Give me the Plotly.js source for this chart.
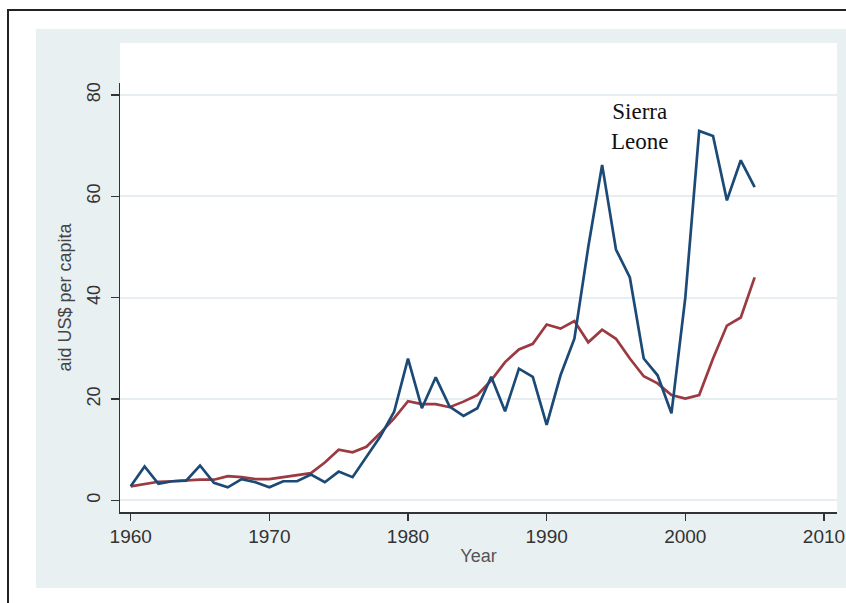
<!DOCTYPE html>
<html>
<head>
<meta charset="utf-8">
<script src="https://cdn.plot.ly/plotly-3.0.1.min.js"></script>
<style>
  html, body { margin: 0; padding: 0; background: #ffffff; }
  #chart { width: 846px; height: 603px; }
</style>
</head>
<body>
<div id="chart"></div>
<script>
// ---- data ----
const years = [1960,1961,1962,1963,1964,1965,1966,1967,1968,1969,
               1970,1971,1972,1973,1974,1975,1976,1977,1978,1979,
               1980,1981,1982,1983,1984,1985,1986,1987,1988,1989,
               1990,1991,1992,1993,1994,1995,1996,1997,1998,1999,
               2000,2001,2002,2003,2004,2005];

const sierraLeone = [2.8,6.7,3.3,3.8,3.9,6.9,3.5,2.6,4.2,3.6,
                     2.6,3.8,3.8,5.1,3.6,5.7,4.6,8.7,12.6,17.5,
                     28.0,18.2,24.3,18.5,16.7,18.2,24.4,17.6,26.0,24.4,
                     14.9,24.7,31.9,50.0,66.2,49.5,44.0,28.0,24.7,17.2,
                     40.0,72.9,71.9,59.2,67.1,61.8];

const comparison = [2.8,3.3,3.7,3.8,4.0,4.1,4.1,4.8,4.6,4.2,
                    4.2,4.6,4.9,5.4,7.5,10.0,9.5,10.6,13.3,16.2,
                    19.6,19.0,19.0,18.4,19.5,20.8,23.7,27.3,29.8,30.9,
                    34.7,33.9,35.4,31.2,33.7,31.9,28.0,24.5,23.1,20.8,
                    20.1,20.8,28.0,34.5,36.1,44.0];

const xTicks = [1960,1970,1980,1990,2000,2010];
const yTicks = [0,20,40,60,80];
const seriesLabel = "Sierra<br>Leone";
const xTitle = "Year";
const yTitle = "aid US$ per capita";

// ---- chart ----
const traces = [
  { x: years, y: comparison, type: 'scatter', mode: 'lines',
    line: { color: '#9b3a40', width: 2.7 }, hoverinfo: 'x+y', showlegend: false },
  { x: years, y: sierraLeone, type: 'scatter', mode: 'lines', name: 'Sierra Leone',
    line: { color: '#1c4a76', width: 2.7 }, hoverinfo: 'x+y', showlegend: false }
];

const tickFont = { family: 'Liberation Sans, Arial, sans-serif', size: 19, color: '#333333' };

const layout = {
  width: 846, height: 603,
  margin: { l: 120, r: 9, t: 83, b: 91 },
  paper_bgcolor: '#ffffff',
  plot_bgcolor: '#ffffff',
  showlegend: false,
  xaxis: {
    range: [1959.228, 2010.94],
    tickvals: xTicks,
    ticktext: xTicks.map(String),
    ticks: 'outside', ticklen: 7, tickwidth: 1.5, tickcolor: '#333333',
    showline: true, linecolor: '#333333', linewidth: 1.5,
    showgrid: false, zeroline: false,
    tickfont: tickFont,
    title: { text: xTitle, font: { family: 'Liberation Sans, Arial, sans-serif', size: 18, color: '#555555' }, standoff: 3 }
  },
  yaxis: {
    range: [-2.27, 82.35],
    tickvals: yTicks,
    ticktext: yTicks.map(String),
    tickangle: -90,
    ticks: 'outside', ticklen: 8, tickwidth: 1.5, tickcolor: '#333333',
    ticklabelstandoff: 3,
    showline: true, linecolor: '#333333', linewidth: 1.5,
    showgrid: true, gridcolor: '#e6eef1', gridwidth: 2,
    zeroline: false,
    tickfont: { family: 'Liberation Sans, Arial, sans-serif', size: 18, color: '#333333' },
    title: { text: yTitle, font: { family: 'Liberation Sans, Arial, sans-serif', size: 18, color: '#444444' }, standoff: 8 }
  },
  shapes: [
    // light grey-blue graph region
    { type: 'rect', xref: 'paper', yref: 'paper', layer: 'below',
      x0: -0.1172, x1: 1.06, y0: -0.1772, y1: 1.1259,
      fillcolor: '#e9f0f2', line: { width: 0 } },
    // white plot region (extends above the axis range)
    { type: 'rect', xref: 'paper', yref: 'paper', layer: 'below',
      x0: 0, x1: 1, y0: 0, y1: 1.0932,
      fillcolor: '#ffffff', line: { width: 0 } },
    // outer frame (cropped at right and bottom)
    { type: 'rect', xref: 'paper', yref: 'paper', layer: 'below',
      x0: -0.1562, x1: 1.08, y0: -0.3, y1: 1.1702,
      fillcolor: 'rgba(0,0,0,0)', line: { color: '#222222', width: 2 } }
  ],
  annotations: [
    { xref: 'x', yref: 'y', x: 1996.7, y: 73.7, text: seriesLabel, showarrow: false,
      align: 'center', font: { family: 'Liberation Serif, Times New Roman, serif', size: 23, color: '#111111' } }
  ]
};

Plotly.newPlot('chart', traces, layout, { staticPlot: true, displayModeBar: false });
</script>
</body>
</html>
